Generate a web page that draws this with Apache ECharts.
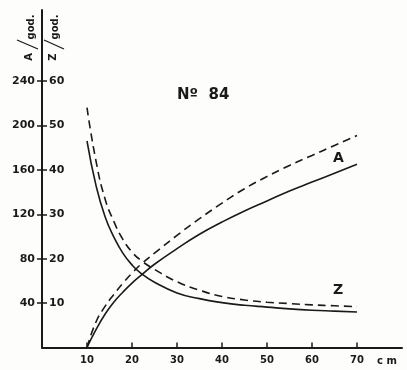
<!DOCTYPE html>
<html>
<head>
<meta charset="utf-8">
<script src="https://cdn.jsdelivr.net/npm/echarts@6/dist/echarts.min.js"></script>
<style>
html,body{margin:0;padding:0;background:#fdfdfb;}
#c{width:407px;height:370px;}
</style>
</head>
<body>
<div id="c"></div>
<script>
var xCm = [10, 12, 14, 16, 18, 20, 22, 25, 30, 35, 40, 45, 50, 55, 60, 65, 70];
var aSolid  = [0, 16, 30, 41, 50, 58, 65, 75, 89, 102, 113, 123, 132, 141, 149, 157, 165];
var aDashed = [0, 23, 37, 48, 58, 67, 75, 85, 101, 116, 130, 143, 154, 164, 173, 182, 191];
var zSolid  = [46.5, 36.5, 29.5, 24.8, 21.2, 18.6, 16.7, 14.7, 12.3, 11, 10.1, 9.5, 9.1, 8.7, 8.4, 8.2, 8.0];
var zDashed = [54, 42, 33.5, 28.3, 24.3, 21.5, 19.6, 17.6, 14.8, 12.9, 11.5, 10.7, 10.2, 9.9, 9.6, 9.4, 9.2];
var xTicks = [10, 20, 30, 40, 50, 60, 70];
var aTicks = [40, 80, 120, 160, 200, 240];
var zTicks = [10, 20, 30, 40, 50, 60];

var ink = '#1a1a1a';
var fontFam = '"DejaVu Sans", sans-serif';
function pairs(xs, ys) { return xs.map(function (x, i) { return [x, ys[i]]; }); }

var chart = echarts.init(document.getElementById('c'), null, {renderer: 'canvas'});
var lineBase = {type: 'line', smooth: 0.5, symbol: 'none', silent: true};
chart.setOption({
  animation: false,
  backgroundColor: '#fdfdfb',
  grid: {left: 42, right: 5, top: 10, bottom: 22.5},
  xAxis: {
    type: 'value', min: 0, max: 80,
    axisLine: {lineStyle: {color: ink, width: 2}},
    axisTick: {inside: true, length: 5, customValues: xTicks, lineStyle: {color: ink, width: 1.5}},
    axisLabel: {customValues: xTicks, margin: 8, fontSize: 10, fontWeight: 'bold', color: ink, fontFamily: fontFam},
    splitLine: {show: false}
  },
  yAxis: [{
    type: 'value', min: 0, max: 304, position: 'left',
    axisLine: {show: true, lineStyle: {color: ink, width: 2}},
    axisTick: {show: true, inside: false, length: 5, customValues: aTicks, lineStyle: {color: ink, width: 1.5}},
    axisLabel: {customValues: aTicks, margin: 7, fontSize: 11, fontWeight: 'bold', color: ink, fontFamily: fontFam},
    splitLine: {show: false}
  }, {
    type: 'value', min: 0, max: 76, position: 'left',
    axisLine: {show: false},
    axisTick: {show: true, inside: true, length: 5, customValues: zTicks, lineStyle: {color: ink, width: 1.5}},
    axisLabel: {inside: true, customValues: zTicks, margin: 7, fontSize: 11, fontWeight: 'bold', color: ink, fontFamily: fontFam},
    splitLine: {show: false}
  }],
  series: [
    Object.assign({}, lineBase, {name: 'A', yAxisIndex: 0, data: pairs(xCm, aSolid), lineStyle: {color: ink, width: 1.6}}),
    Object.assign({}, lineBase, {name: 'A dashed', yAxisIndex: 0, data: pairs(xCm, aDashed), lineStyle: {color: ink, width: 1.6, type: [8, 5]}}),
    Object.assign({}, lineBase, {name: 'Z', yAxisIndex: 1, data: pairs(xCm, zSolid), lineStyle: {color: ink, width: 1.6}}),
    Object.assign({}, lineBase, {name: 'Z dashed', yAxisIndex: 1, data: pairs(xCm, zDashed), lineStyle: {color: ink, width: 1.6, type: [8, 5]}})
  ],
  graphic: [
    {type: 'text', left: 177, top: 88, style: {text: 'Nº  84', fontSize: 15, fontWeight: 'bold', fill: ink, fontFamily: fontFam}},
    {type: 'text', left: 333, top: 151, style: {text: 'A', fontSize: 14, fontWeight: 'bold', fill: ink, fontFamily: fontFam}},
    {type: 'text', left: 333, top: 283, style: {text: 'Z', fontSize: 14, fontWeight: 'bold', fill: ink, fontFamily: fontFam}},
    {type: 'text', left: 377, top: 356, style: {text: 'c m', fontSize: 10, fontWeight: 'bold', fill: ink, fontFamily: fontFam}},
    {type: 'text', x: 31, y: 27, rotation: Math.PI / 2, style: {text: 'god.', fontSize: 10, fontWeight: 'bold', fill: ink, fontFamily: fontFam, align: 'center', verticalAlign: 'middle'}},
    {type: 'text', x: 29, y: 57, rotation: Math.PI / 2, style: {text: 'A', fontSize: 10, fontWeight: 'bold', fill: ink, fontFamily: fontFam, align: 'center', verticalAlign: 'middle'}},
    {type: 'text', x: 55, y: 27, rotation: Math.PI / 2, style: {text: 'god.', fontSize: 10, fontWeight: 'bold', fill: ink, fontFamily: fontFam, align: 'center', verticalAlign: 'middle'}},
    {type: 'text', x: 53, y: 57, rotation: Math.PI / 2, style: {text: 'Z', fontSize: 10, fontWeight: 'bold', fill: ink, fontFamily: fontFam, align: 'center', verticalAlign: 'middle'}},
    {type: 'line', shape: {x1: 17, y1: 40, x2: 38, y2: 49}, style: {stroke: ink, lineWidth: 1.3}},
    {type: 'line', shape: {x1: 44, y1: 40, x2: 64, y2: 49}, style: {stroke: ink, lineWidth: 1.3}}
  ]
});
</script>
</body>
</html>
